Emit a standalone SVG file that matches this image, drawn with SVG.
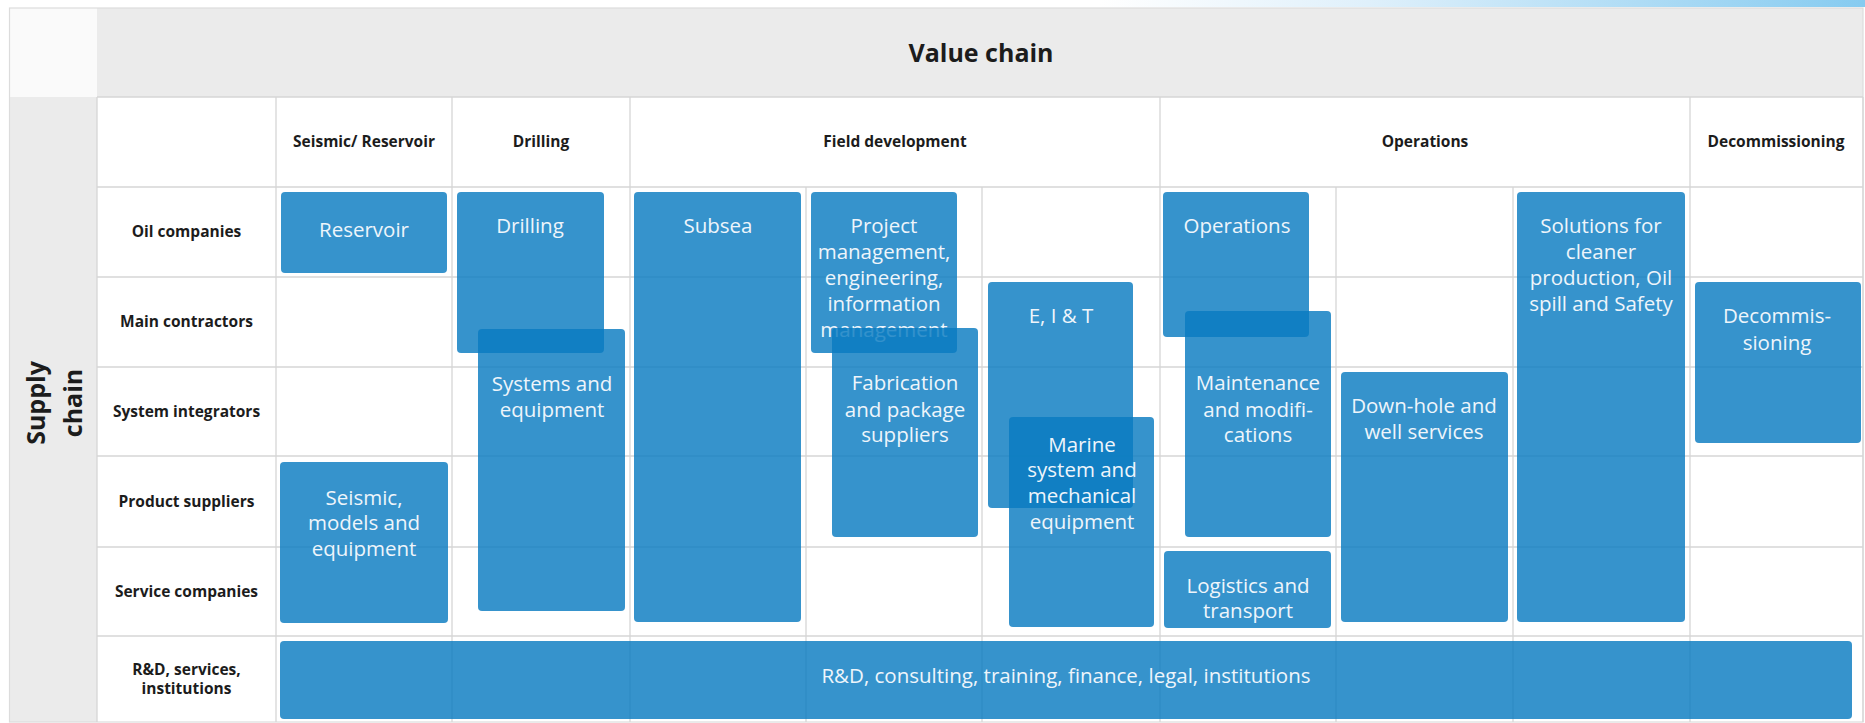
<svg xmlns="http://www.w3.org/2000/svg" width="1865" height="723" viewBox="0 0 1865 723">
<defs>
<linearGradient id="topband" x1="0" y1="0" x2="1" y2="0">
<stop offset="0" stop-color="#ffffff"/>
<stop offset="0.35" stop-color="#dff0fb"/>
<stop offset="1" stop-color="#86cbf0"/>
</linearGradient>
<style>
.grid line{stroke:#d6d6d6;stroke-width:1.3}
.box{fill:#0a7bc1;fill-opacity:0.82}
.bt{font-family:"Open Sans","Noto Sans",sans-serif;font-size:20.5px;fill:#eef5fb;text-anchor:middle}
.lab{font-family:"Open Sans","Noto Sans",sans-serif;font-size:15.5px;font-weight:bold;fill:#1c1c1c;text-anchor:middle}
.big{font-family:"Open Sans","Noto Sans",sans-serif;font-size:25px;font-weight:bold;fill:#1c1c1c;text-anchor:middle}
</style>
</defs>
<rect x="0" y="0" width="1865" height="723" fill="#ffffff"/>
<rect x="1100" y="0" width="765" height="7" fill="url(#topband)"/>

<g id="frame">
<rect x="9.5" y="8" width="87.5" height="89" fill="#fafafa"/>
<rect x="97" y="8" width="1766" height="89" fill="#ebebeb"/>
<rect x="9.5" y="97" width="87.5" height="625" fill="#ebebeb"/>
<rect x="9.5" y="8" width="1853.5" height="714" fill="none" stroke="#dcdcdc" stroke-width="1.2"/>
</g>

<g class="grid" id="grid">
<line x1="97" y1="97" x2="1863" y2="97"/>
<line x1="97" y1="187" x2="1863" y2="187"/>
<line x1="97" y1="277" x2="1863" y2="277"/>
<line x1="97" y1="367" x2="1863" y2="367"/>
<line x1="97" y1="456" x2="1863" y2="456"/>
<line x1="97" y1="547" x2="1863" y2="547"/>
<line x1="97" y1="636" x2="1863" y2="636"/>
<line x1="97" y1="97" x2="97" y2="722"/>
<line x1="276" y1="97" x2="276" y2="722"/>
<line x1="452" y1="97" x2="452" y2="722"/>
<line x1="630" y1="97" x2="630" y2="722"/>
<line x1="806" y1="187" x2="806" y2="722"/>
<line x1="982" y1="187" x2="982" y2="722"/>
<line x1="1160" y1="97" x2="1160" y2="722"/>
<line x1="1336" y1="187" x2="1336" y2="722"/>
<line x1="1513" y1="187" x2="1513" y2="722"/>
<line x1="1690" y1="97" x2="1690" y2="722"/>
<line x1="1863" y1="97" x2="1863" y2="722"/>
</g>

<g id="headers">
<text class="big" x="981" y="62">Value chain</text>
<text class="big" transform="translate(45,403) rotate(-90)">Supply</text>
<text class="big" transform="translate(82,403) rotate(-90)">chain</text>
<text class="lab" x="364" y="147">Seismic/ Reservoir</text>
<text class="lab" x="541" y="147">Drilling</text>
<text class="lab" x="895" y="147">Field development</text>
<text class="lab" x="1425" y="147">Operations</text>
<text class="lab" x="1776" y="147">Decommissioning</text>
<text class="lab" x="186.5" y="237">Oil companies</text>
<text class="lab" x="186.5" y="327">Main contractors</text>
<text class="lab" x="186.5" y="417">System integrators</text>
<text class="lab" x="186.5" y="507">Product suppliers</text>
<text class="lab" x="186.5" y="597">Service companies</text>
<text class="lab" x="186.5" y="675">R&amp;D, services,</text>
<text class="lab" x="186.5" y="694">institutions</text>
</g>

<g id="connectors"/>

<g id="node-reservoir">
<rect class="box" x="281" y="192" width="166" height="81" rx="4"/>
<text class="bt" x="364" y="237">Reservoir</text>
</g>
<g id="node-drilling">
<rect class="box" x="457" y="192" width="147" height="161" rx="4"/>
<text class="bt" x="530" y="233">Drilling</text>
</g>
<g id="node-systems">
<rect class="box" x="478" y="329" width="147" height="282" rx="4"/>
<text class="bt" x="552" y="391">Systems and</text>
<text class="bt" x="552" y="417">equipment</text>
</g>
<g id="node-seismic">
<rect class="box" x="280" y="462" width="168" height="161" rx="4"/>
<text class="bt" x="364" y="505">Seismic,</text>
<text class="bt" x="364" y="530">models and</text>
<text class="bt" x="364" y="556">equipment</text>
</g>
<g id="node-subsea">
<rect class="box" x="634" y="192" width="167" height="430" rx="4"/>
<text class="bt" x="718" y="233">Subsea</text>
</g>
<g id="node-project">
<rect class="box" x="811" y="192" width="146" height="161" rx="4"/>
<text class="bt" x="884" y="233">Project</text>
<text class="bt" x="884" y="259">management,</text>
<text class="bt" x="884" y="285">engineering,</text>
<text class="bt" x="884" y="311">information</text>
<text class="bt" x="884" y="337">management</text>
</g>
<g id="node-fabrication">
<rect class="box" x="832" y="328" width="146" height="209" rx="4"/>
<text class="bt" x="905" y="390">Fabrication</text>
<text class="bt" x="905" y="417">and package</text>
<text class="bt" x="905" y="442">suppliers</text>
</g>
<g id="node-eit">
<rect class="box" x="988" y="282" width="145" height="226" rx="4"/>
<text class="bt" x="1061" y="323">E, I &amp; T</text>
</g>
<g id="node-marine">
<rect class="box" x="1009" y="417" width="145" height="210" rx="4"/>
<text class="bt" x="1082" y="452">Marine</text>
<text class="bt" x="1082" y="477">system and</text>
<text class="bt" x="1082" y="503">mechanical</text>
<text class="bt" x="1082" y="529">equipment</text>
</g>
<g id="node-operations">
<rect class="box" x="1163" y="192" width="146" height="145" rx="4"/>
<text class="bt" x="1237" y="233">Operations</text>
</g>
<g id="node-maintenance">
<rect class="box" x="1185" y="311" width="146" height="226" rx="4"/>
<text class="bt" x="1258" y="390">Maintenance</text>
<text class="bt" x="1258" y="417">and modifi-</text>
<text class="bt" x="1258" y="442">cations</text>
</g>
<g id="node-logistics">
<rect class="box" x="1164" y="551" width="167" height="77" rx="4"/>
<text class="bt" x="1248" y="593">Logistics and</text>
<text class="bt" x="1248" y="618">transport</text>
</g>
<g id="node-downhole">
<rect class="box" x="1341" y="372" width="167" height="250" rx="4"/>
<text class="bt" x="1424" y="413">Down-hole and</text>
<text class="bt" x="1424" y="439">well services</text>
</g>
<g id="node-solutions">
<rect class="box" x="1517" y="192" width="168" height="430" rx="4"/>
<text class="bt" x="1601" y="233">Solutions for</text>
<text class="bt" x="1601" y="259">cleaner</text>
<text class="bt" x="1601" y="285">production, Oil</text>
<text class="bt" x="1601" y="311">spill and Safety</text>
</g>
<g id="node-decommissioning">
<rect class="box" x="1695" y="282" width="166" height="161" rx="4"/>
<text class="bt" x="1777" y="323">Decommis-</text>
<text class="bt" x="1777" y="350">sioning</text>
</g>
<g id="node-rnd">
<rect class="box" x="280" y="641" width="1572" height="78" rx="4"/>
<text class="bt" x="1066" y="683">R&amp;D, consulting, training, finance, legal, institutions</text>
</g>
</svg>
